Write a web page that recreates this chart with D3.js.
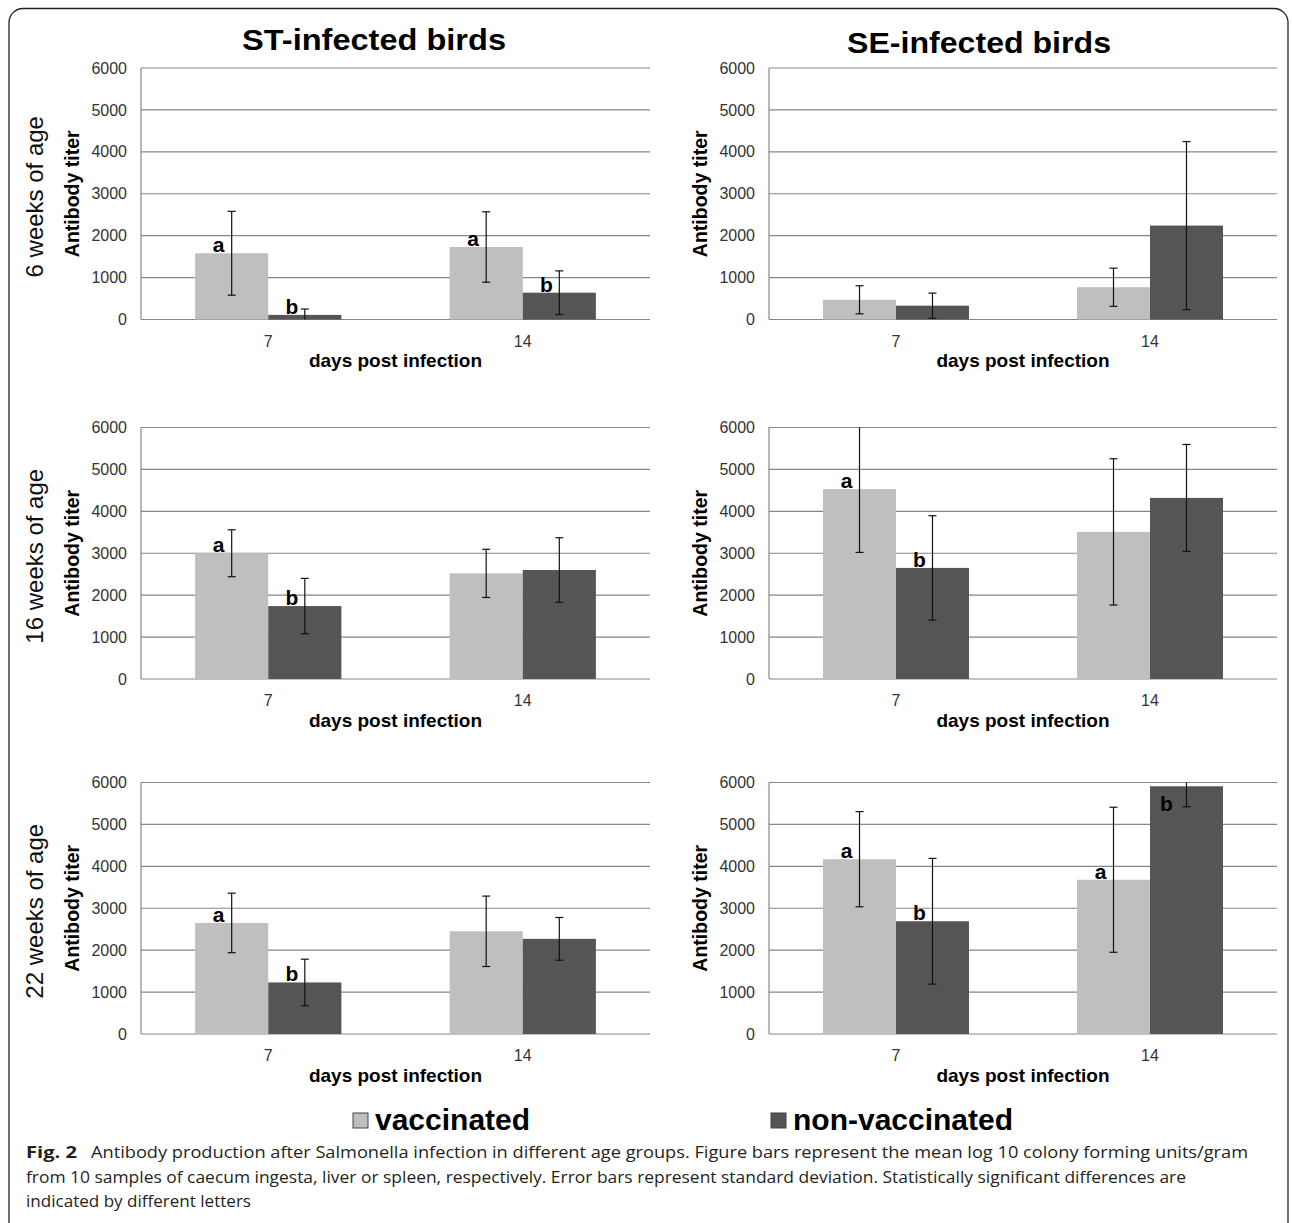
<!DOCTYPE html>
<html>
<head>
<meta charset="utf-8">
<script src="https://cdn.jsdelivr.net/npm/d3@7"></script>
<style>
  body { margin: 0; background: #fff; }
  svg { display: block; font-family: 'Liberation Sans', Arimo, Arial, Helvetica, sans-serif; }
</style>
</head>
<body>
<script>
const days = ['7', '14']
const groups = ['vaccinated', 'non-vaccinated']
const strains = ['ST-infected birds', 'SE-infected birds']
const ages = ['6 weeks of age', '16 weeks of age', '22 weeks of age']
const yTicks = [0, 1000, 2000, 3000, 4000, 5000, 6000]

// each row: [day 7 vaccinated, day 7 non-vaccinated, day 14 vaccinated, day 14 non-vaccinated]
const meanST = [
  [1580, 110, 1730, 640],
  [3000, 1740, 2520, 2600],
  [2650, 1230, 2450, 2270]
]
const sdST = [
  [1000, 140, 840, 520],
  [560, 660, 575, 770],
  [710, 555, 840, 510]
]
const letterST = [
  ['a', 'b', 'a', 'b'],
  ['a', 'b', '', ''],
  ['a', 'b', '', '']
]

const meanSE = [
  [470, 330, 770, 2240],
  [4530, 2650, 3510, 4320],
  [4170, 2690, 3680, 5910]
]
const sdSE = [
  [335, 300, 455, 2005],
  [1510, 1245, 1745, 1275],
  [1135, 1500, 1730, 490]
]
const letterSE = [
  ['', '', '', ''],
  ['a', 'b', '', ''],
  ['a', 'b', 'a', 'b']
]

const colors = ['#bfbfbf', '#555555']
const caption = [
  'Antibody production after Salmonella infection in different age groups. Figure bars represent the mean log 10 colony forming units/gram',
  'from 10 samples of caecum ingesta, liver or spleen, respectively. Error bars represent standard deviation. Statistically significant differences are',
  'indicated by different letters'
]

const W = 1292, H = 1223
const FONT = "'Liberation Sans', Arimo, Arial, Helvetica, sans-serif"
const svg = d3.select('body').append('svg')
  .attr('width', W)
  .attr('height', H)
  .attr('font-family', FONT)

svg.append('rect').attr('width', W).attr('height', H).attr('fill', '#fff')
svg.append('rect')
  .attr('x', 9).attr('y', 8.5)
  .attr('width', 1279).attr('height', 1228)
  .attr('rx', 14)
  .attr('fill', 'none')
  .attr('stroke', '#222')
  .attr('stroke-width', 1.3)

// layout
const colX = [[141, 650], [769, 1277]]
const rowTop = [68, 427.5, 782.5]
const plotH = 251.5

// column titles
const titlePos = [[374, 49.5], [979, 53]]
strains.forEach((s, i) => {
  svg.append('text')
    .attr('x', titlePos[i][0]).attr('y', titlePos[i][1])
    .attr('text-anchor', 'middle')
    .attr('font-size', 30).attr('font-weight', 'bold')
    .attr('textLength', 264).attr('lengthAdjust', 'spacingAndGlyphs')
    .text(s)
})

// row labels
ages.forEach((a, r) => {
  const cy = rowTop[r] + plotH / 2 + 3
  svg.append('text')
    .attr('transform', `translate(43,${cy}) rotate(-90)`)
    .attr('text-anchor', 'middle')
    .attr('font-size', 24)
    .attr('fill', '#111')
    .text(a)
})

function panel (left, right, top, means, sds, letters) {
  const bottom = top + plotH
  const g = svg.append('g')

  const y = d3.scaleLinear().domain([0, 6000]).range([bottom, top])
  const x0 = d3.scaleBand().domain(days).range([left, right]).padding(0)
  const x1 = d3.scaleBand().domain(groups).range([0, x0.bandwidth()])
                .paddingInner(0).paddingOuter(0.74)

  // gridlines
  g.selectAll('line.grid')
    .data(yTicks)
    .enter()
    .append('line')
    .attr('class', 'grid')
    .attr('x1', left).attr('x2', right)
    .attr('y1', d => y(d)).attr('y2', d => y(d))
    .attr('stroke', '#868686')
    .attr('stroke-width', 1.2)
  g.append('line')
    .attr('x1', left).attr('x2', left)
    .attr('y1', top).attr('y2', bottom)
    .attr('stroke', '#868686')
    .attr('stroke-width', 1.2)

  // y axis labels
  const ya = g.append('g')
    .attr('transform', `translate(${left},0)`)
    .call(d3.axisLeft(y).tickValues(yTicks).tickFormat(d3.format('d'))
            .tickSize(0).tickPadding(14))
  ya.select('.domain').remove()
  ya.selectAll('text')
    .attr('font-size', 16)
    .attr('font-family', FONT)
    .attr('fill', '#333')

  // x axis labels
  const xa = g.append('g')
    .attr('transform', `translate(0,${bottom})`)
    .call(d3.axisBottom(x0).tickSize(0).tickPadding(16))
  xa.select('.domain').remove()
  xa.selectAll('text')
    .attr('font-size', 16)
    .attr('font-family', FONT)
    .attr('fill', '#333')

  const rows = []
  days.forEach((d, i) => {
    groups.forEach((k, j) => {
      const n = i * 2 + j
      rows.push({ day: d, group: k, j: j, mean: means[n], sd: sds[n], letter: letters[n] })
    })
  })
  const cx = d => x0(d.day) + x1(d.group) + x1.bandwidth() / 2

  g.selectAll('rect.bar')
    .data(rows)
    .enter()
    .append('rect')
    .attr('class', 'bar')
    .attr('x', d => x0(d.day) + x1(d.group))
    .attr('y', d => y(d.mean))
    .attr('width', x1.bandwidth())
    .attr('height', d => bottom - y(d.mean))
    .attr('fill', d => colors[d.j])

  // error bars
  rows.forEach(d => {
    const hi = d.mean + d.sd, lo = d.mean - d.sd
    const y1 = y(Math.min(hi, 6000)), y2 = y(Math.max(lo, 0))
    const x = cx(d)
    g.append('line')
      .attr('x1', x).attr('x2', x).attr('y1', y1).attr('y2', y2)
      .attr('stroke', '#111').attr('stroke-width', 1.2)
    if (hi <= 6000) {
      g.append('line')
        .attr('x1', x - 4).attr('x2', x + 4).attr('y1', y1).attr('y2', y1)
        .attr('stroke', '#111').attr('stroke-width', 1.2)
    }
    if (lo >= 0) {
      g.append('line')
        .attr('x1', x - 4).attr('x2', x + 4).attr('y1', y2).attr('y2', y2)
        .attr('stroke', '#111').attr('stroke-width', 1.2)
    }
  })

  // significance letters
  g.selectAll('text.letter')
    .data(rows.filter(d => d.letter))
    .enter()
    .append('text')
    .attr('class', 'letter')
    .attr('x', d => cx(d) - (y(d.mean) - 17 < top ? 20 : 13))
    .attr('y', d => y(d.mean) - 17 < top ? y(d.mean) + 25 : y(d.mean) - 1)
    .attr('text-anchor', 'middle')
    .attr('font-size', 21)
    .attr('font-weight', 'bold')
    .attr('fill', '#000')
    .text(d => d.letter)

  // axis titles
  g.append('text')
    .attr('transform', `translate(${left - 62},${(top + bottom) / 2}) rotate(-90)`)
    .attr('text-anchor', 'middle')
    .attr('font-size', 19.5)
    .attr('font-weight', 'bold')
    .text('Antibody titer')
  g.append('text')
    .attr('x', (left + right) / 2)
    .attr('y', bottom + 47.5)
    .attr('text-anchor', 'middle')
    .attr('font-size', 19)
    .attr('font-weight', 'bold')
    .text('days post infection')
}

ages.forEach((a, r) => {
  panel(colX[0][0], colX[0][1], rowTop[r], meanST[r], sdST[r], letterST[r])
  panel(colX[1][0], colX[1][1], rowTop[r], meanSE[r], sdSE[r], letterSE[r])
})

// legend
const legendX = [353, 771]
groups.forEach((k, i) => {
  svg.append('rect')
    .attr('x', legendX[i]).attr('y', 1113)
    .attr('width', 15).attr('height', 15)
    .attr('fill', colors[i])
    .attr('stroke', '#444').attr('stroke-width', 1)
  svg.append('text')
    .attr('x', legendX[i] + 22).attr('y', 1130)
    .attr('font-size', 30).attr('font-weight', 'bold')
    .text(k)
})

// caption
const cap = svg.append('g')
  .attr('font-family', "'Open Sans', 'Noto Sans', sans-serif")
  .attr('fill', '#231f20')
  .attr('font-size', 16)
cap.append('text')
  .attr('x', 26).attr('y', 1158)
  .attr('font-weight', 'bold')
  .attr('textLength', 51).attr('lengthAdjust', 'spacingAndGlyphs')
  .text('Fig. 2')
const capX = [91, 26, 26]
const capLen = [1157, 1160, 225]
caption.forEach((c, i) => {
  cap.append('text')
    .attr('x', capX[i]).attr('y', 1158 + i * 24.5)
    .attr('textLength', capLen[i]).attr('lengthAdjust', 'spacingAndGlyphs')
    .text(c)
})
</script>
</body>
</html>
